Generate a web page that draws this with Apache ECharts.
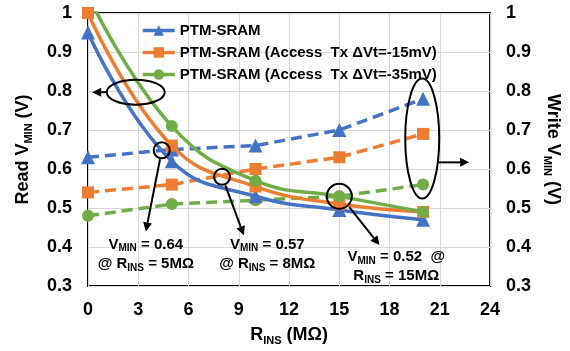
<!DOCTYPE html>
<html>
<head>
<meta charset="utf-8">
<script src="https://cdn.jsdelivr.net/npm/echarts@6/dist/echarts.min.js"></script>
<style>
  html, body { margin: 0; padding: 0; background: #fff; }
  #chart { width: 570px; height: 351px; }
</style>
</head>
<body>
<div id="chart"></div>
<script>
// R_INS (MΩ)
const rIns = [0, 5, 10, 15, 20]
// read VMIN (left axis, solid)
const readBase = [0.95, 0.62, 0.53, 0.495, 0.47]
const read15 = [1.0, 0.66, 0.555, 0.51, 0.49]
const read35 = [1.045, 0.71, 0.57, 0.53, 0.49]
// write VMIN (right axis, dashed)
const writeBase = [0.63, 0.65, 0.66, 0.70, 0.78]
const write15 = [0.54, 0.56, 0.60, 0.63, 0.69]
const write35 = [0.48, 0.51, 0.52, 0.53, 0.56]

const names = ['PTM-SRAM', 'PTM-SRAM (Access  Tx ΔVt=-15mV)', 'PTM-SRAM (Access  Tx ΔVt=-35mV)']
const colors = ['#4472C4', '#ED7D31', '#70AD47']
const symbols = ['triangle', 'rect', 'circle']

const FONT = 'Liberation Sans, Arial, sans-serif'
const pair = (ys) => rIns.map((x, i) => [x, ys[i]])

const chart = echarts.init(document.getElementById('chart'))

const readSeries = [readBase, read15, read35].map((d, i) => ({
  name: names[i], type: 'line', yAxisIndex: 0, smooth: 0.45,
  data: pair(d), symbol: symbols[i], symbolSize: i === 0 ? 14 : 12,
  lineStyle: { width: 3.5, color: colors[i] },
  itemStyle: { color: colors[i] },
  z: 3,
}))
const writeSeries = [writeBase, write15, write35].map((d, i) => ({
  name: names[i] + ' write', type: 'line', yAxisIndex: 1,
  data: pair(d), symbol: symbols[i], symbolSize: i === 0 ? 14 : 12,
  lineStyle: { width: 3.5, color: colors[i], type: [11, 6] },
  itemStyle: { color: colors[i] },
  z: 2,
}))

const subRich = {
  b: { fontSize: 15, fontWeight: 'bold', fontFamily: FONT, color: '#000', lineHeight: 18 },
  s: { fontSize: 10, fontWeight: 'bold', fontFamily: FONT, color: '#000', lineHeight: 10, verticalAlign: 'bottom' },
}
const nameRich = {
  b: { fontSize: 18, fontWeight: 'bold', fontFamily: FONT, color: '#000', lineHeight: 22 },
  s: { fontSize: 11, fontWeight: 'bold', fontFamily: FONT, color: '#000', lineHeight: 12, verticalAlign: 'bottom' },
}

const yAxisBase = {
  type: 'value', min: 0.3, max: 1, interval: 0.1,
  axisLine: { show: false }, axisTick: { show: false },
  axisLabel: { fontSize: 18, fontWeight: 'bold', fontFamily: FONT, color: '#000', margin: 16,
    formatter: v => (Math.round(v * 10) / 10).toString() },
  nameLocation: 'middle',
  nameTextStyle: { rich: nameRich },
}

chart.setOption({
  animation: false,
  grid: { left: 88, right: 79, top: 13, bottom: 62, show: true, borderColor: '#000', borderWidth: 2 },
  legend: {
    data: names, orient: 'vertical', left: 136, top: 18, itemWidth: 32, itemHeight: 13, itemGap: 7,
    lineStyle: { width: 3.5 },
    textStyle: { fontSize: 15, fontWeight: 'bold', fontFamily: FONT, color: '#000' },
  },
  xAxis: {
    type: 'value', min: 0, max: 24, interval: 3,
    axisLine: { show: false }, axisTick: { show: false },
    splitLine: { lineStyle: { color: '#d9d9d9', width: 1 } },
    axisLabel: { fontSize: 18, fontWeight: 'bold', fontFamily: FONT, color: '#000', margin: 15 },
    name: '{b|R}{s|INS}{b| (MΩ)}', nameLocation: 'middle', nameGap: 38,
    nameTextStyle: { rich: nameRich },
  },
  yAxis: [
    Object.assign({}, yAxisBase, {
      position: 'left',
      splitLine: { lineStyle: { color: '#d9d9d9', width: 1 } },
      name: '{b|Read V}{s|MIN}{b| (V)}', nameRotate: 90, nameGap: 54,
    }),
    Object.assign({}, yAxisBase, {
      position: 'right', splitLine: { show: false },
      axisLabel: Object.assign({}, yAxisBase.axisLabel, { align: 'left' }),
      name: '{b|Write V}{s|MIN}{b| (V)}', nameRotate: -90, nameGap: 45,
    }),
  ],
  series: readSeries.concat(writeSeries),
})

// annotations, anchored in data coordinates (R_INS, V)
const px = (p) => chart.convertToPixel({ xAxisIndex: 0, yAxisIndex: 0 }, p)

function arrow(from, to) {
  const a = px(from), b = px(to)
  const ang = Math.atan2(b[1] - a[1], b[0] - a[0])
  const L = 9, W = 4.5
  const base = [b[0] - L * Math.cos(ang), b[1] - L * Math.sin(ang)]
  const nx = -Math.sin(ang), ny = Math.cos(ang)
  return [
    { type: 'line', shape: { x1: a[0], y1: a[1], x2: base[0], y2: base[1] }, style: { stroke: '#000', lineWidth: 2 }, z: 10 },
    { type: 'polygon', shape: { points: [b, [base[0] + nx * W, base[1] + ny * W], [base[0] - nx * W, base[1] - ny * W]] }, style: { fill: '#000' }, z: 10 },
  ]
}
function ellipse(c, rx, ry) {
  const p = px(c)
  return { type: 'ellipse', shape: { cx: p[0], cy: p[1], rx: rx, ry: ry }, style: { fill: 'none', stroke: '#000', lineWidth: 2 }, z: 10 }
}
function label(c, text) {
  const p = px(c)
  return { type: 'text', z: 11, style: { x: p[0], y: p[1], text: text, rich: subRich, align: 'center', verticalAlign: 'middle' } }
}

const graphics = [].concat(
  ellipse([2.85, 0.797], 29, 12.5),
  arrow([1.15, 0.797], [0.25, 0.797]),
  ellipse([4.4, 0.648], 8, 8),
  arrow([4.3, 0.625], [3.45, 0.44]),
  ellipse([8.0, 0.58], 8, 8),
  arrow([8.2, 0.558], [9.3, 0.43]),
  ellipse([15.0, 0.53], 12.5, 12.5),
  arrow([15.6, 0.502], [17.4, 0.405]),
  ellipse([19.95, 0.678], 17, 60),
  arrow([20.95, 0.617], [22.75, 0.617]),
  label([3.45, 0.406], '{b|V}{s|MIN}{b| = 0.64}'),
  label([3.45, 0.356], '{b|@ R}{s|INS}{b| = 5MΩ}'),
  label([10.7, 0.406], '{b|V}{s|MIN}{b| = 0.57}'),
  label([10.7, 0.356], '{b|@ R}{s|INS}{b| = 8MΩ}'),
  label([18.4, 0.374], '{b|V}{s|MIN}{b| = 0.52  @}'),
  label([18.4, 0.325], '{b|R}{s|INS}{b| = 15MΩ}'),
)
chart.setOption({ graphic: graphics })
</script>
</body>
</html>
